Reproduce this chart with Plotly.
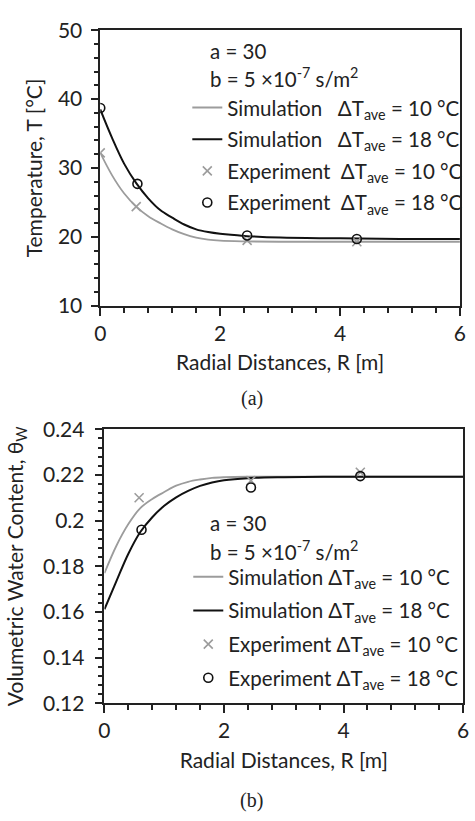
import plotly.graph_objects as go

# ---------------- data (a) temperature ----------------
sim_x = [0, 0.2, 0.4, 0.6, 0.8, 1.0, 1.2, 1.4, 1.6, 1.8, 2.0, 2.4, 3.0, 4.0, 5.0, 6.0]
temp_sim10 = [32.2, 28.9, 26.3, 24.4, 23.0, 22.0, 21.1, 20.4, 19.9, 19.6, 19.45, 19.35, 19.3, 19.3, 19.3, 19.3]
temp_sim18 = [38.5, 34.3, 30.6, 27.8, 25.6, 23.9, 22.8, 21.8, 21.1, 20.7, 20.45, 20.15, 19.9, 19.8, 19.7, 19.7]
temp_exp_x10 = [0, 0.6, 2.45, 4.28]
temp_exp10 = [32.2, 24.4, 19.5, 19.3]
temp_exp_x18 = [0, 0.62, 2.45, 4.28]
temp_exp18 = [38.7, 27.7, 20.2, 19.7]

# ---------------- data (b) water content ----------------
wc_sim10 = [0.177, 0.189, 0.1985, 0.2055, 0.2095, 0.2125, 0.2153, 0.217, 0.218, 0.2187, 0.219, 0.2192, 0.2192, 0.2192, 0.2192, 0.2192]
wc_sim18 = [0.1612, 0.1735, 0.1855, 0.195, 0.2015, 0.2065, 0.2102, 0.213, 0.2152, 0.2167, 0.2177, 0.2186, 0.219, 0.2192, 0.2192, 0.2192]
wc_exp_x10 = [0.58, 2.45, 4.28]
wc_exp10 = [0.210, 0.2175, 0.2212]
wc_exp_x18 = [0.62, 2.45, 4.28]
wc_exp18 = [0.196, 0.2145, 0.2195]

names = [
    "Simulation\u00a0\u00a0\u00a0ΔT<sub>ave</sub> = 10 °C",
    "Simulation\u00a0\u00a0\u00a0ΔT<sub>ave</sub> = 18 °C",
    "Experiment\u00a0\u00a0ΔT<sub>ave</sub> = 10 °C",
    "Experiment\u00a0\u00a0ΔT<sub>ave</sub> = 18 °C",
]
names_b = [
    "Simulation ΔT<sub>ave</sub> = 10 °C",
    "Simulation ΔT<sub>ave</sub> = 18 °C",
    "Experiment ΔT<sub>ave</sub> = 10 °C",
    "Experiment ΔT<sub>ave</sub> = 18 °C",
]

GRAY = "#9c9c9c"
BLACK = "#111111"
TXT = "#222222"
FONT = "Lato"
W, H = 475, 821

fig = go.Figure()

def add_set(xa, ya, sim10, sim18, ex10x, ex10, ex18x, ex18, nm, leg, grp):
    fig.add_trace(go.Scatter(x=sim_x, y=sim10, mode="lines", line=dict(color=GRAY, width=1.8, shape="spline"),
                             name=nm[0], xaxis=xa, yaxis=ya, legend=leg, legendgroup=grp + "1"))
    fig.add_trace(go.Scatter(x=sim_x, y=sim18, mode="lines", line=dict(color=BLACK, width=2, shape="spline"),
                             name=nm[1], xaxis=xa, yaxis=ya, legend=leg, legendgroup=grp + "2"))
    fig.add_trace(go.Scatter(x=ex10x, y=ex10, mode="markers",
                             marker=dict(symbol="x-thin-open", size=9, color=GRAY, line=dict(color=GRAY, width=1.6)),
                             name=nm[2], xaxis=xa, yaxis=ya, legend=leg, legendgroup=grp + "3"))
    fig.add_trace(go.Scatter(x=ex18x, y=ex18, mode="markers",
                             marker=dict(symbol="circle-open", size=9, color=BLACK, line=dict(color=BLACK, width=1.6)),
                             name=nm[3], xaxis=xa, yaxis=ya, legend=leg, legendgroup=grp + "4"))

add_set("x", "y", temp_sim10, temp_sim18, temp_exp_x10, temp_exp10, temp_exp_x18, temp_exp18, names, "legend", "a")
add_set("x2", "y2", wc_sim10, wc_sim18, wc_exp_x10, wc_exp10, wc_exp_x18, wc_exp18, names_b, "legend2", "b")

axis_common = dict(showline=True, linecolor="#222", linewidth=1.5, mirror=True, showgrid=False, zeroline=False,
                   ticks="outside", ticklen=8, tickwidth=1.5, tickcolor="#222",
                   tickfont=dict(family=FONT, size=21, color=TXT))
TFONT = dict(family=FONT, size=21, color=TXT)

fig.update_layout(
    width=W, height=H, margin=dict(l=0, r=0, t=0, b=0),
    paper_bgcolor="white", plot_bgcolor="white",
    xaxis=dict(axis_common, domain=[96.7 / W, 465.7 / W], range=[0, 6], dtick=2, anchor="y",
               minor=dict(ticks="outside", dtick=0.4, ticklen=5, tickwidth=1.5, tickcolor="#222"),
               ticklabelstandoff=0,
               title=dict(text="Radial Distances, R [m]", font=TFONT, standoff=12)),
    yaxis=dict(axis_common, domain=[1 - 301 / H, 1 - 16.7 / H], range=[10, 50], dtick=10, anchor="x",
               minor=dict(ticks="outside", dtick=2, ticklen=5, tickwidth=1.5, tickcolor="#222"),
               ticklabelstandoff=4,
               title=dict(text="Temperature, T [°C]", font=TFONT, standoff=10)),
    xaxis2=dict(axis_common, domain=[101 / W, 469 / W], range=[0, 6], dtick=2, anchor="y2",
                minor=dict(ticks="outside", dtick=0.4, ticklen=5, tickwidth=1.5, tickcolor="#222"),
                ticklabelstandoff=0,
                title=dict(text="Radial Distances, R [m]", font=TFONT, standoff=12)),
    yaxis2=dict(axis_common, domain=[1 - 711 / H, 1 - 428.3 / H], range=[0.12, 0.24], dtick=0.02, anchor="x2",
                tickformat="~g",
                minor=dict(ticks="outside", dtick=0.004, ticklen=5, tickwidth=1.5, tickcolor="#222"),
                ticklabelstandoff=6,
                title=dict(text="Volumetric Water Content, θ<sub>W</sub>", font=TFONT, standoff=14)),
    legend=dict(x=186 / W, y=1 - 76 / H, xanchor="left", yanchor="top", bgcolor="rgba(0,0,0,0)",
                font=dict(family=FONT, size=20.5, color=TXT), traceorder="grouped", tracegroupgap=2, itemwidth=30),
    legend2=dict(x=187 / W, y=1 - 560 / H, xanchor="left", yanchor="top", bgcolor="rgba(0,0,0,0)",
                 font=dict(family=FONT, size=20.5, color=TXT), traceorder="grouped", tracegroupgap=4, itemwidth=30),
    showlegend=True,
)

ann_font = dict(family=FONT, size=20.5, color=TXT)
fig.add_annotation(text="a = 30", x=207 / W, y=1 - 38 / H, xref="paper", yref="paper", xanchor="left",
                   yanchor="middle", showarrow=False, font=ann_font)
fig.add_annotation(text="b = 5 ×10<sup>-7</sup> s/m<sup>2</sup>", x=207 / W, y=1 - 66 / H, xref="paper", yref="paper",
                   xanchor="left", yanchor="middle", showarrow=False, font=ann_font)
fig.add_annotation(text="a = 30", x=207 / W, y=1 - 525 / H, xref="paper", yref="paper", xanchor="left",
                   yanchor="middle", showarrow=False, font=ann_font)
fig.add_annotation(text="b = 5 ×10<sup>-7</sup> s/m<sup>2</sup>", x=207 / W, y=1 - 553 / H, xref="paper", yref="paper",
                   xanchor="left", yanchor="middle", showarrow=False, font=ann_font)

cap_font = dict(family="Liberation Serif", size=20, color=TXT)
fig.add_annotation(text="(a)", x=252 / W, y=1 - 397 / H, xref="paper", yref="paper", xanchor="center",
                   yanchor="middle", showarrow=False, font=cap_font)
fig.add_annotation(text="(b)", x=252 / W, y=1 - 811 / H, xref="paper", yref="paper", xanchor="center",
                   yanchor="middle", showarrow=False, font=cap_font)

fig.write_html("out.html")
